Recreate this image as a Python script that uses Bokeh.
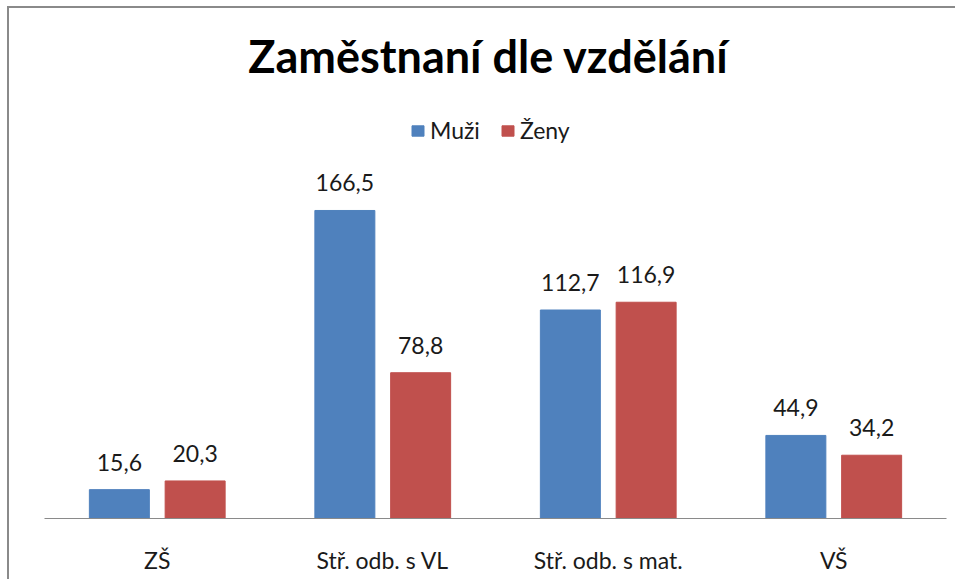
from bokeh.plotting import figure
from bokeh.models import FactorRange, Range1d, ColumnDataSource, Label, Legend, LegendItem, LabelSet
from bokeh.transform import dodge
from bokeh.core.properties import value
from bokeh.embed import file_html
from bokeh.resources import INLINE

categories = ["ZŠ", "Stř. odb. s VL", "Stř. odb. s mat.", "VŠ"]
muzi = [15.6, 166.5, 112.7, 44.9]
zeny = [20.3, 78.8, 116.9, 34.2]
series_names = ["Muži", "Ženy"]
title_text = "Zaměstnaní dle vzdělání"

BLUE = "#4F81BD"
RED = "#C0504D"
FONT = "Lato"
FRAME_GREY = "#8a8a8a"

src = ColumnDataSource(dict(
    cat=categories,
    muzi=muzi,
    zeny=zeny,
    muzi_lbl=[f"{v:.1f}".replace(".", ",") for v in muzi],
    zeny_lbl=[f"{v:.1f}".replace(".", ",") for v in zeny],
))

p = figure(
    x_range=FactorRange(factors=categories, range_padding=0),
    y_range=Range1d(0, 280.0),
    width=955, height=579,
    output_backend="svg", toolbar_location=None,
    min_border_left=44, min_border_right=9, min_border_top=0, min_border_bottom=61,
)
p.border_fill_color = None
p.background_fill_color = None
p.styles = {
    "background": (f"linear-gradient({FRAME_GREY},{FRAME_GREY}) 7px 6px / 2px 100% no-repeat, "
                   f"linear-gradient({FRAME_GREY},{FRAME_GREY}) 7px 6px / 100% 2px no-repeat, white"),
}

off = 0.168
w = 0.266
r1 = p.vbar(x=dodge("cat", -off, range=p.x_range), top="muzi", width=w, source=src,
            fill_color=BLUE, line_color=BLUE)
r2 = p.vbar(x=dodge("cat", off, range=p.x_range), top="zeny", width=w, source=src,
            fill_color=RED, line_color=RED)

for col, lbl, o in (("muzi", "muzi_lbl", -off), ("zeny", "zeny_lbl", off)):
    ls = LabelSet(x=dodge("cat", o, range=p.x_range), y=col, text=lbl, source=src,
                  text_align="center", text_baseline="alphabetic", y_offset=19,
                  text_font=value(FONT), text_font_size="23px", text_color="#1a1a1a")
    p.add_layout(ls)

# title
p.add_layout(Label(x=2, y=250.2, x_offset=-7, text=title_text, text_align="center",
                   text_baseline="alphabetic", text_font=FONT, text_font_style="bold",
                   text_font_size="45px", text_color="#000000"))

legend = Legend(items=[LegendItem(label=series_names[0], renderers=[r1]),
                       LegendItem(label=series_names[1], renderers=[r2])],
                orientation="horizontal", location=(366, 374),
                label_text_font=FONT, label_text_font_size="23px", label_text_color="#1a1a1a",
                glyph_width=15, glyph_height=13, label_standoff=5, spacing=20,
                padding=0, margin=0, border_line_color=None, background_fill_alpha=0)
p.add_layout(legend)

p.yaxis.visible = False
p.grid.visible = False
p.outline_line_color = None
p.xaxis.axis_line_color = FRAME_GREY
p.xaxis.axis_line_width = 1.2
p.xaxis.major_tick_line_color = None
p.xaxis.minor_tick_line_color = None
p.xaxis.major_tick_out = 0
p.xaxis.major_tick_in = 0
p.xaxis.major_label_text_font = FONT
p.xaxis.major_label_text_font_size = "23px"
p.xaxis.major_label_text_color = "#1a1a1a"
p.xaxis.major_label_standoff = 27

open("out.html", "w").write(file_html(p, INLINE))
